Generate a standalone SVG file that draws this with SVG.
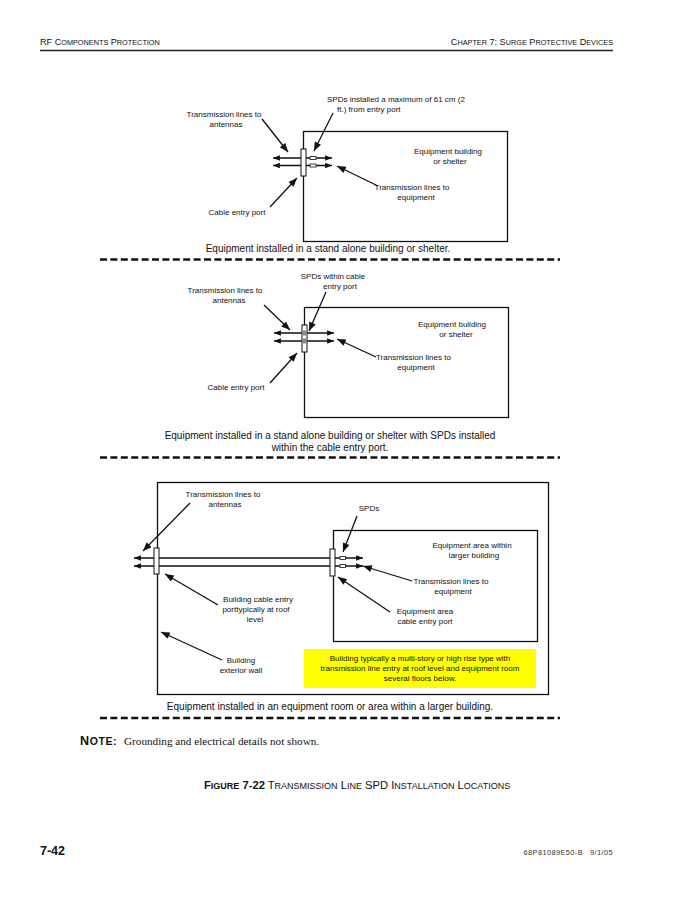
<svg xmlns="http://www.w3.org/2000/svg" width="695" height="899" viewBox="0 0 695 899">
<style>
text{font-family:"Liberation Sans",Arial,sans-serif;fill:#111}
text.serif{font-family:"Liberation Serif","Times New Roman",serif}
text.ft{fill:#333}
.lb{font-size:8px}
.cap{font-size:10px}
.c{text-anchor:middle}
.bld{fill:none;stroke:#111;stroke-width:1.3}
.port{fill:#fff;stroke:#111;stroke-width:1}
.spd{fill:#fff;stroke:#111;stroke-width:0.8}
.tl{stroke:#111;stroke-width:1.5;fill:none;marker-start:url(#la);marker-end:url(#la)}
.co{stroke:#111;stroke-width:1.3;fill:none;marker-end:url(#ah)}
.dash{stroke:#111;stroke-width:2.4;stroke-dasharray:7 3.4;fill:none}
.sc{font-size:7.3px}
.fs{font-size:9px}
</style>
<defs>
<marker id="ah" viewBox="0 0 10 8" refX="10" refY="4" markerWidth="10" markerHeight="7" orient="auto" markerUnits="userSpaceOnUse"><path d="M0,0 L10,4 L0,8 z" fill="#111"/></marker>
<marker id="la" viewBox="0 0 10 8" refX="10" refY="4" markerWidth="7" markerHeight="5.5" orient="auto-start-reverse" markerUnits="userSpaceOnUse"><path d="M0,0 L10,4 L0,8 z" fill="#111"/></marker>
</defs>

<g id="header">
<text x="40" y="45" font-size="9.1">RF C<tspan class="sc">OMPONENTS</tspan> P<tspan class="sc">ROTECTION</tspan></text>
<text x="613" y="45" font-size="9.1" text-anchor="end">C<tspan class="sc">HAPTER</tspan> 7: S<tspan class="sc">URGE</tspan> P<tspan class="sc">ROTECTIVE</tspan> D<tspan class="sc">EVICES</tspan></text>
<line x1="40" y1="50.5" x2="613" y2="50.5" stroke="#222" stroke-width="1.3"/>
</g>

<!-- Panel 1 -->
<g id="p1-building"><rect class="bld" x="303.5" y="131.5" width="204" height="110"/>
<text class="lb c" x="448" y="154">Equipment building</text><text class="lb c" x="450" y="164">or shelter</text></g>
<g id="p1-lines">
<line class="tl" x1="273" y1="158" x2="332" y2="158"/>
<line class="tl" x1="273" y1="165.5" x2="332" y2="165.5"/>
</g>
<g id="p1-port"><rect class="port" x="301" y="149" width="5" height="27"/></g>
<g id="p1-spds"><rect class="spd" x="310" y="156.5" width="6" height="3"/><rect class="spd" x="310" y="164" width="6" height="3"/></g>
<g id="p1-labels">
<text class="lb" x="327" y="102">SPDs installed a maximum of 61 cm (2</text>
<text class="lb" x="337" y="112">ft.) from entry port</text>
<text class="lb c" x="224" y="117">Transmission lines to</text>
<text class="lb c" x="226" y="127">antennas</text>
<text class="lb c" x="412" y="190">Transmission lines to</text>
<text class="lb c" x="416" y="200">equipment</text>
<text class="lb c" x="237" y="215">Cable entry port</text>
<text class="cap c" x="328" y="252">Equipment installed in a stand alone building or shelter.</text>
</g>

<!-- Panel 2 -->
<g id="p2-building"><rect class="bld" x="304.5" y="307.5" width="204" height="110"/>
<text class="lb c" x="452" y="327">Equipment building</text><text class="lb c" x="456" y="337">or shelter</text></g>
<g id="p2-lines">
<line class="tl" x1="274" y1="333" x2="334" y2="333"/>
<line class="tl" x1="274" y1="341" x2="334" y2="341"/>
</g>
<g id="p2-port"><rect class="port" x="302" y="325" width="5" height="27"/>
<rect x="302.5" y="330.5" width="4" height="5" fill="#888"/><rect x="302.5" y="338.5" width="4" height="5" fill="#888"/></g>
<g id="p2-labels">
<text class="lb c" x="333" y="279">SPDs within cable</text>
<text class="lb c" x="340" y="289">entry port</text>
<text class="lb c" x="225" y="293">Transmission lines to</text>
<text class="lb c" x="229" y="303">antennas</text>
<text class="lb" x="376" y="360">Transmission lines to</text>
<text class="lb c" x="416" y="370">equipment</text>
<text class="lb c" x="236" y="390">Cable entry port</text>
<text class="cap c" x="330" y="439">Equipment installed in a stand alone building or shelter with SPDs installed</text>
<text class="cap c" x="330" y="451">within the cable entry port.</text>
</g>

<!-- Panel 3 -->
<g id="p3-outer"><rect class="bld" x="157.5" y="482.5" width="391" height="212"/></g>
<g id="p3-inner"><rect class="bld" x="333.5" y="530.5" width="204" height="111"/>
<text class="lb c" x="472" y="548">Equipment area within</text><text class="lb c" x="474" y="558">larger building</text></g>
<g id="p3-lines">
<line class="tl" x1="134" y1="558" x2="363" y2="558"/>
<line class="tl" x1="134" y1="566" x2="363" y2="566"/>
</g>
<g id="p3-bport"><rect class="port" x="154" y="548" width="5" height="26"/></g>
<g id="p3-eport"><rect class="port" x="330" y="549" width="5" height="27"/></g>
<g id="p3-spds"><rect class="spd" x="340" y="556.5" width="5.5" height="3"/><rect class="spd" x="340" y="564.5" width="5.5" height="3"/></g>
<g id="p3-labels">
<text class="lb c" x="223" y="497">Transmission lines to</text>
<text class="lb c" x="225" y="507">antennas</text>
<text class="lb c" x="369" y="511">SPDs</text>
<text class="lb c" x="451" y="584">Transmission lines to</text>
<text class="lb c" x="453" y="594">equipment</text>
<text class="lb c" x="258" y="602">Building cable entry</text>
<text class="lb c" x="256" y="612">porttypically at roof</text>
<text class="lb c" x="255" y="622">level</text>
<text class="lb c" x="425" y="614">Equipment area</text>
<text class="lb c" x="425" y="624">cable entry port</text>
<text class="lb c" x="241" y="663">Building</text>
<text class="lb c" x="241" y="673">exterior wall</text>
</g>
<g id="p3-note">
<rect x="304" y="649" width="232" height="39" fill="#ffff00"/>
<text class="lb c" x="420" y="661">Building typically a multi-story or high rise type with</text>
<text class="lb c" x="420" y="671">transmission line entry at roof level and equipment room</text>
<text class="lb c" x="420" y="681">several floors below.</text>
</g>
<g id="p3-caption"><text class="cap c" x="330" y="710">Equipment installed in an equipment room or area within a larger building.</text></g>

<g id="connectors">
<line class="co" x1="262" y1="119" x2="288" y2="152"/>
<line class="co" x1="333" y1="113" x2="314" y2="151"/>
<line class="co" x1="378" y1="186" x2="337" y2="166"/>
<line class="co" x1="270" y1="207" x2="297" y2="178"/>
<line class="co" x1="264" y1="305" x2="290" y2="330"/>
<line class="co" x1="326" y1="292" x2="309" y2="331"/>
<line class="co" x1="376" y1="357" x2="337" y2="339"/>
<line class="co" x1="270" y1="383" x2="297" y2="353"/>
<line class="co" x1="190" y1="503" x2="143" y2="551"/>
<line class="co" x1="357" y1="516" x2="343" y2="552"/>
<line class="co" x1="412" y1="581" x2="363" y2="566"/>
<line class="co" x1="218" y1="605" x2="165" y2="574"/>
<line class="co" x1="390" y1="612" x2="338" y2="577"/>
<line class="co" x1="222" y1="660" x2="161" y2="632"/>
</g>

<g id="dividers">
<line class="dash" x1="100" y1="259.5" x2="560" y2="259.5"/>
<line class="dash" x1="100" y1="457.5" x2="560" y2="457.5"/>
<line class="dash" x1="100" y1="718" x2="560" y2="718"/>
</g>

<g id="note">
<text x="80" y="745" letter-spacing="0.6"><tspan font-size="12.5" font-weight="bold">N</tspan><tspan font-size="10.5" font-weight="bold">OTE:</tspan></text>
<text class="serif" x="124" y="745" font-size="11.2">Grounding and electrical details not shown.</text>
</g>

<g id="figure-caption">
<text x="204" y="789" font-size="11.2"><tspan font-weight="bold">F<tspan class="fs">IGURE</tspan> 7-22</tspan>  T<tspan class="fs">RANSMISSION</tspan> L<tspan class="fs">INE</tspan> SPD I<tspan class="fs">NSTALLATION</tspan> L<tspan class="fs">OCATIONS</tspan></text>
</g>

<g id="footer">
<text x="40" y="855" font-size="12.5" font-weight="bold">7-42</text>
<text class="ft" x="583" y="855" font-size="7.4" text-anchor="end" letter-spacing="0.4">68P81089E50-B</text>
<text class="ft" x="613" y="855" font-size="7.4" text-anchor="end" letter-spacing="0.4">9/1/05</text>
</g>
</svg>
